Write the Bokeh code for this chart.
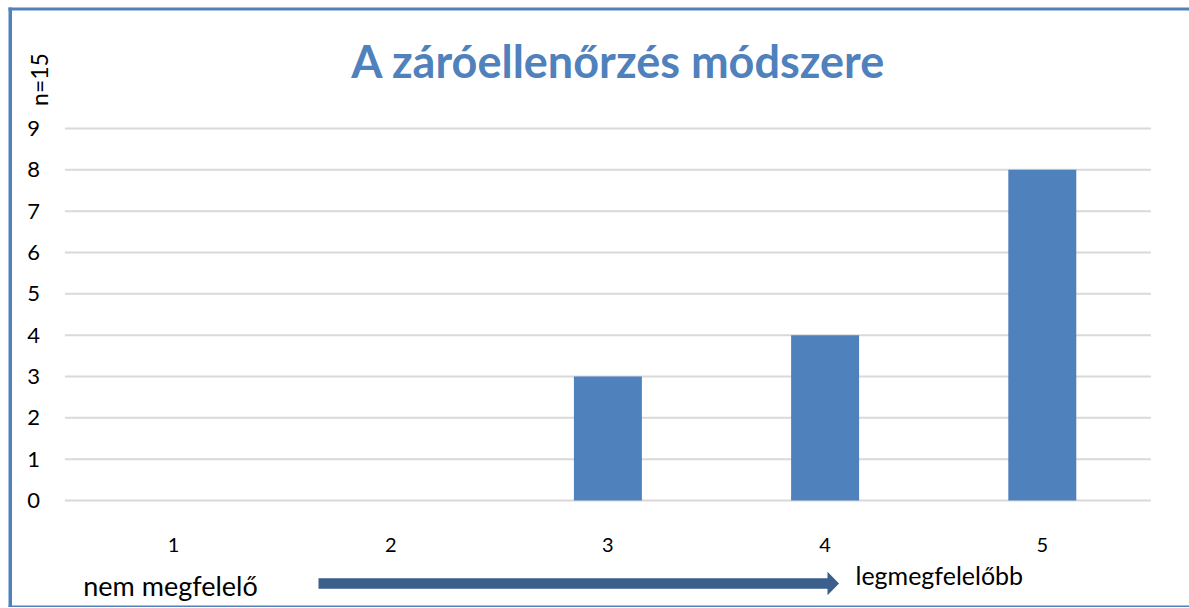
import math
from bokeh.plotting import figure
from bokeh.models import Range1d, FixedTicker, Label
from bokeh.embed import file_html
from bokeh.resources import INLINE

# ---- data ----
categories = ["1", "2", "3", "4", "5"]
values = [0, 0, 3, 4, 8]
y_ticks = [0, 1, 2, 3, 4, 5, 6, 7, 8, 9]
title_text = "A záróellenőrzés módszere"
n_text = "n=15"
low_text = "nem megfelelő"
high_text = "legmegfelelőbb"

FONT = "Lato"
BLUE = "#4F81BD"
W, H = 1189, 607

# layout helpers: page pixel -> data coordinate
CAT_PX, CAT_X0 = 217.2, 173.0      # px per category, px of first category
UNIT_PX, ZERO_PX = 41.3333, 500.0  # px per y unit, px of y = 0


def dx(px):
    return 1 + (px - CAT_X0) / CAT_PX


def dy(py):
    return (ZERO_PX - py) / UNIT_PX


x_pos = list(range(1, len(categories) + 1))

# the frame covers the whole figure; axes are placed inside it
p = figure(
    x_range=Range1d(dx(0), dx(W)),
    y_range=Range1d(dy(H), dy(0)),
    width=W, height=H,
    output_backend="svg", toolbar_location=None,
    min_border=0,
)
p.outline_line_color = None
p.background_fill_color = "white"
p.border_fill_color = "white"

# chart border (top, left, bottom)
bl, br, bt, bb = zip(*[(8, W + 5, 7, 10), (8, 11.5, 7, 607), (8, W + 5, 605, 607)])
p.quad(left=[dx(v) for v in bl], right=[dx(v) for v in br],
       top=[dy(v) for v in bt], bottom=[dy(v) for v in bb],
       fill_color=BLUE, line_color=None)

# grid lines limited to the plot area
p.xgrid.grid_line_color = None
p.ygrid.grid_line_color = None
p.segment(x0=[0.5] * len(y_ticks), x1=[len(categories) + 0.5] * len(y_ticks),
          y0=y_ticks, y1=y_ticks, line_color="#D9D9D9", line_width=2)

p.vbar(x=x_pos, top=values, width=0.313, fill_color=BLUE, line_color=None)

# axes
p.yaxis.ticker = FixedTicker(ticks=y_ticks)
p.xaxis.ticker = FixedTicker(ticks=x_pos)
p.xaxis.major_label_overrides = {i: c for i, c in zip(x_pos, categories)}
p.yaxis.fixed_location = 0.5
p.xaxis.fixed_location = 0
for ax in (p.xaxis[0], p.yaxis[0]):
    ax.axis_line_color = None
    ax.major_tick_line_color = None
    ax.minor_tick_line_color = None
    ax.major_tick_out = 0
    ax.major_tick_in = 0
    ax.major_label_text_font = FONT
    ax.major_label_text_color = "black"
p.yaxis.major_label_text_font_size = "22px"
p.yaxis.major_label_standoff = 25
p.xaxis.major_label_text_font_size = "20px"
p.xaxis.major_label_standoff = 37

p.add_layout(Label(x=dx(618), y=dy(60), text=title_text,
                   text_font=FONT, text_font_style="bold", text_font_size="45px",
                   text_color=BLUE, text_align="center", text_baseline="middle"))
p.add_layout(Label(x=dx(38), y=dy(79), text=n_text, angle=math.pi / 2,
                   text_font=FONT, text_font_size="23px", text_color="black",
                   text_align="center", text_baseline="middle"))
p.add_layout(Label(x=dx(170), y=dy(585), text=low_text,
                   text_font=FONT, text_font_size="27px", text_color="black",
                   text_align="center", text_baseline="middle"))
p.add_layout(Label(x=dx(855), y=dy(574), text=high_text,
                   text_font=FONT, text_font_size="25px", text_color="black",
                   text_align="left", text_baseline="middle"))

# arrow (shaft + flat head)
x0, xb, xt = dx(318), dx(827), dx(838.5)
yc, hs, hh = dy(583), 5.3 / UNIT_PX, 11.8 / UNIT_PX
p.patch(x=[x0, xb, xb, xt, xb, xb, x0],
        y=[yc - hs, yc - hs, yc - hh, yc, yc + hh, yc + hs, yc + hs],
        fill_color="#3A5F8B", line_color=None)

open("out.html", "w").write(file_html(p, INLINE))
